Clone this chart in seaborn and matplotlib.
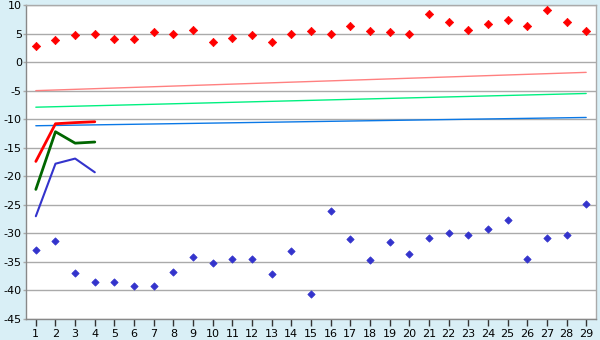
import matplotlib
matplotlib.use("Agg")
import matplotlib.pyplot as plt
import seaborn as sns
import pandas as pd
import numpy as np

days = list(range(1, 30))
upper_values = [2.9, 3.8, 4.7, 5.0, 4.0, 4.0, 5.2, 5.0, 5.7,
                3.6, 4.15, 4.7, 3.45, 4.85, 5.4, 4.85, 6.4, 5.4, 5.2,
                4.85, 8.5, 6.95, 5.55, 6.75, 7.45, 6.4, 9.2, 7.1, 5.4]
lower_values = [-33.0, -31.4, -37.0, -38.45, -38.6, -39.3, -39.15, -36.7, -34.2,
                -35.2, -34.5, -34.5, -37.1, -33.1, -40.7, -26.1, -30.9, -34.7, -31.6,
                -33.6, -30.8, -29.9, -30.2, -29.3, -27.6, -34.5, -30.8, -30.3, -24.9]

short_x = [1, 2, 3, 4]
short_red = [-17.4, -10.8, -10.6, -10.45]
short_green = [-22.3, -12.2, -14.2, -14.0]
short_blue = [-27.0, -17.8, -16.9, -19.3]

trend_x = [1, 29]
trend_pink = [-5.0, -1.8]
trend_lightgreen = [-7.9, -5.5]
trend_blue = [-11.15, -9.7]

y_ticks = list(range(-45, 11, 5))

sns.set_style("white")
plt.rcParams['font.family'] = ['DejaVu Sans']
plt.rcParams['axes.unicode_minus'] = False

bg = "#D9EFF6"
fig = plt.figure(figsize=(6, 3.4), dpi=100, facecolor=bg)
ax = fig.add_axes([26/600, 1-319/340, 570/600, 314/340])
ax.set_facecolor("white")

ax.set_ylim(-45, 10)
ax.set_xlim(0.5, 29.5)
ax.set_yticks(y_ticks)
ax.set_xticks(days)
ax.grid(axis="y", color="#AAAAAA", linewidth=1.0)
ax.grid(axis="x", visible=False)
ax.set_axisbelow(True)

# trend lines
for vals, col in [(trend_pink, "#FF8080"), (trend_lightgreen, "#00F080"), (trend_blue, "#0A78E6")]:
    sns.lineplot(x=trend_x, y=vals, color=col, linewidth=1.0, ax=ax, legend=False)

# short lines
sns.lineplot(x=short_x, y=short_red, color="#FF0000", linewidth=2.0, ax=ax)
sns.lineplot(x=short_x, y=short_green, color="#006600", linewidth=2.0, ax=ax)
sns.lineplot(x=short_x, y=short_blue, color="#3333CC", linewidth=1.5, ax=ax)

# point series
sns.scatterplot(x=days, y=upper_values, marker="D", s=18, color="#FF0000",
                edgecolor="#FF0000", linewidth=0.5, ax=ax, zorder=5)
sns.scatterplot(x=days, y=lower_values, marker="D", s=14, color="#3333CC",
                edgecolor="#3333CC", linewidth=0.5, ax=ax, zorder=5)

for side in ["top", "right", "left", "bottom"]:
    ax.spines[side].set_visible(True)
    ax.spines[side].set_color("#AAAAAA")
    ax.spines[side].set_linewidth(1.0)
ax.spines["left"].set_color("#888888")
ax.spines["bottom"].set_color("#888888")

ax.tick_params(axis="x", which="both", bottom=True, direction="out", length=5, width=1,
               color="#333333", labelsize=8, labelcolor="#000000", pad=2)
ax.tick_params(axis="y", left=True, direction="out", length=2, width=1,
               color="#AAAAAA", labelsize=8, labelcolor="#000000", pad=1)
ax.set_xlabel("")
ax.set_ylabel("")

fig.savefig("out.png", dpi=100, facecolor=bg)
